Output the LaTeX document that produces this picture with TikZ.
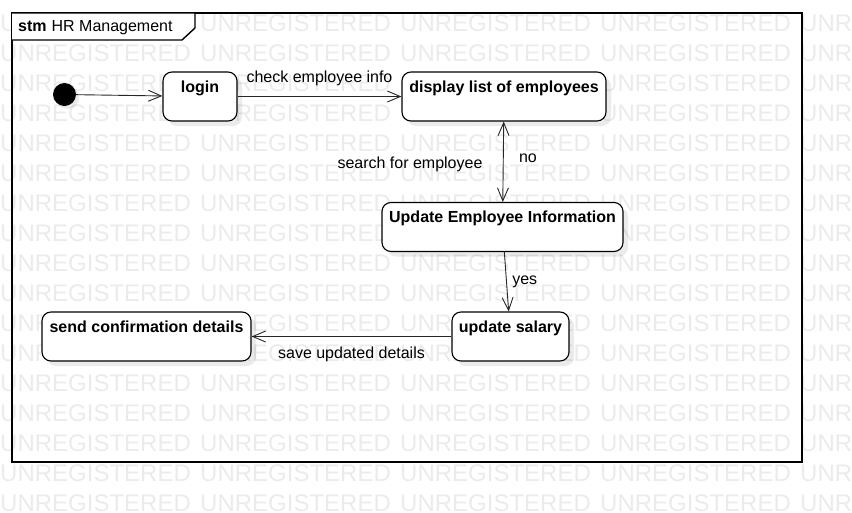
\documentclass[tikz,border=0pt]{standalone}
\usepackage{fontspec}
\setmainfont{Liberation Sans}
\usepackage{tikz}
\usetikzlibrary{arrows.meta,shadows}

\begin{document}
\begin{tikzpicture}[x=1pt,y=-1pt,
    etat/.style={draw, line width=1.1pt, rounded corners=9pt, fill=white,
      drop shadow={shadow xshift=5pt, shadow yshift=-5pt, fill=black, opacity=0.08},
      font=\fontsize{16}{19}\selectfont\bfseries,
      minimum height=49pt, inner ysep=4pt, text height=16pt, text depth=25pt},
    etiquette/.style={font=\fontsize{16}{19}\selectfont},
    fleche/.style={line width=0.9pt, draw=black!85, >={Straight Barb[length=13pt,width=11pt]}}]

            %filigrane
            \clip (0,0) rectangle (852,512);
            \foreach \i in {0,...,16}
              \foreach \j in {0,...,4}
                \node[anchor=base west, inner sep=0pt, text=black!8, font=\fontsize{24}{28}\selectfont] (wm-\i-\j) at (200*\j,31+30*\i) {UNREGISTERED};

            %cadre stm
            \draw[line width=1.4pt] (12,13) rectangle (802,462);
            \draw[line width=1.4pt, fill=white] (12,13) -- (195,13) -- (195,28) -- (182,40) -- (12,40);
            \node[anchor=base west, inner sep=0pt, etiquette] (titre) at (18,31) {\textbf{stm}\hspace{5pt}HR Management};

            %etats
            \node[circle, fill=black, minimum size=23pt, inner sep=0pt,
              drop shadow={shadow xshift=3pt, shadow yshift=-3pt, fill=black, opacity=0.08}] (debut) at (64.5,94.5) {};
            \node[etat, minimum width=74pt] (login) at (200,96.5) {login};
            \node[etat, minimum width=204pt] (liste) at (504,96.5) {display list of employees};
            \node[etat, minimum width=241pt] (maj) at (502.5,227) {Update Employee Information};
            \node[etat, minimum width=117pt] (salaire) at (510.5,336.5) {update salary};
            \node[etat, minimum width=209pt] (envoi) at (146.5,336.5) {send confirmation details};

            %transitions
            \draw[fleche,->] (debut) -- (login);
            \draw[fleche,->] (login) -- node[etiquette, midway, above=7pt] (l-check) {check employee info} (liste);
            \draw[fleche,<->] (liste) -- node[etiquette, midway, left=17pt, yshift=-3pt] (l-search) {search for employee}
                                 node[etiquette, midway, right=12pt, yshift=3pt] (l-no) {no} (maj);
            \draw[fleche,->] (maj) -- node[etiquette, midway, right=2pt] (l-yes) {yes} (salaire);
            \draw[fleche,->] (salaire) -- node[etiquette, midway, below=6.5pt] (l-save) {save updated details} (envoi);

        \end{tikzpicture}
\end{document}
